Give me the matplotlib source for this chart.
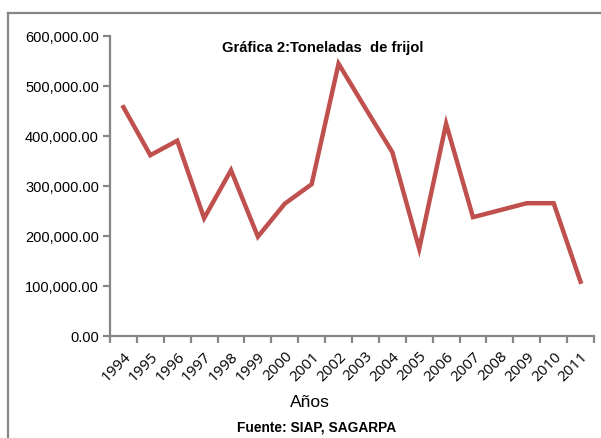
import matplotlib
matplotlib.use("Agg")
import matplotlib.pyplot as plt
from matplotlib.lines import Line2D
from matplotlib.ticker import FuncFormatter

years = ["1994", "1995", "1996", "1997", "1998", "1999", "2000", "2001", "2002",
         "2003", "2004", "2005", "2006", "2007", "2008", "2009", "2010", "2011"]
toneladas = [457000, 361000, 390000, 235000, 331000, 198000, 264000, 303000, 544000,
             455000, 367000, 174000, 424000, 237000, 251000, 265000, 265000, 108000]
y_ticks = [0, 100000, 200000, 300000, 400000, 500000, 600000]

gray = "#868686"

fig = plt.figure(figsize=(6.01, 4.39), dpi=100)

# outer chart frame (cut off at the right and bottom)
fig.add_artist(Line2D([8 / 601, 8 / 601], [0, 1 - 14 / 439], transform=fig.transFigure,
                      color=gray, lw=1.6))
fig.add_artist(Line2D([8 / 601, 1], [1 - 14 / 439, 1 - 14 / 439], transform=fig.transFigure,
                      color=gray, lw=1.6))

ax = fig.add_axes([110 / 601, 1 - 336.7 / 439, 484 / 601, 300 / 439])
x = list(range(len(years)))
ax.plot(x, toneladas, color="#C0504D", lw=3.2, solid_joinstyle="miter")

ax.set_xlim(-0.5, len(years) - 0.5)
ax.set_ylim(0, 600000)
ax.set_yticks(y_ticks)
ax.yaxis.set_major_formatter(FuncFormatter(lambda v, p: f"{v:,.2f}"))
ax.set_xticks([i - 0.5 for i in range(len(years) + 1)])
ax.set_xticklabels([])
ax.set_xticks(x, minor=True)
ax.set_xticklabels(years, minor=True, rotation=45, ha="right", va="top",
                   rotation_mode="anchor", fontsize=11, family="Open Sans")

for s in ["top", "right"]:
    ax.spines[s].set_visible(False)
for s in ["left", "bottom"]:
    ax.spines[s].set_color(gray)
    ax.spines[s].set_linewidth(1.6)
ax.tick_params(axis="both", which="major", direction="out", length=5, width=1.6, color=gray)
ax.tick_params(axis="x", which="minor", length=0, pad=9)
ax.tick_params(axis="y", labelsize=10.5, pad=3)
for lab in ax.get_yticklabels():
    lab.set_family("Liberation Sans")

fig.text(323 / 601, 1 - 48 / 439, "Gráfica 2:Toneladas  de frijol", ha="center", va="center",
         fontsize=10.6, fontweight="bold", family="Liberation Sans")
fig.text(310 / 601, 1 - 403 / 439, "Años", ha="center", va="center",
         fontsize=12.5, family="Liberation Sans")
fig.text(317 / 601, 1 - 428 / 439, "Fuente: SIAP, SAGARPA", ha="center", va="center",
         fontsize=9.9, fontweight="bold", family="Liberation Sans")

fig.savefig("out.png", dpi=100)
